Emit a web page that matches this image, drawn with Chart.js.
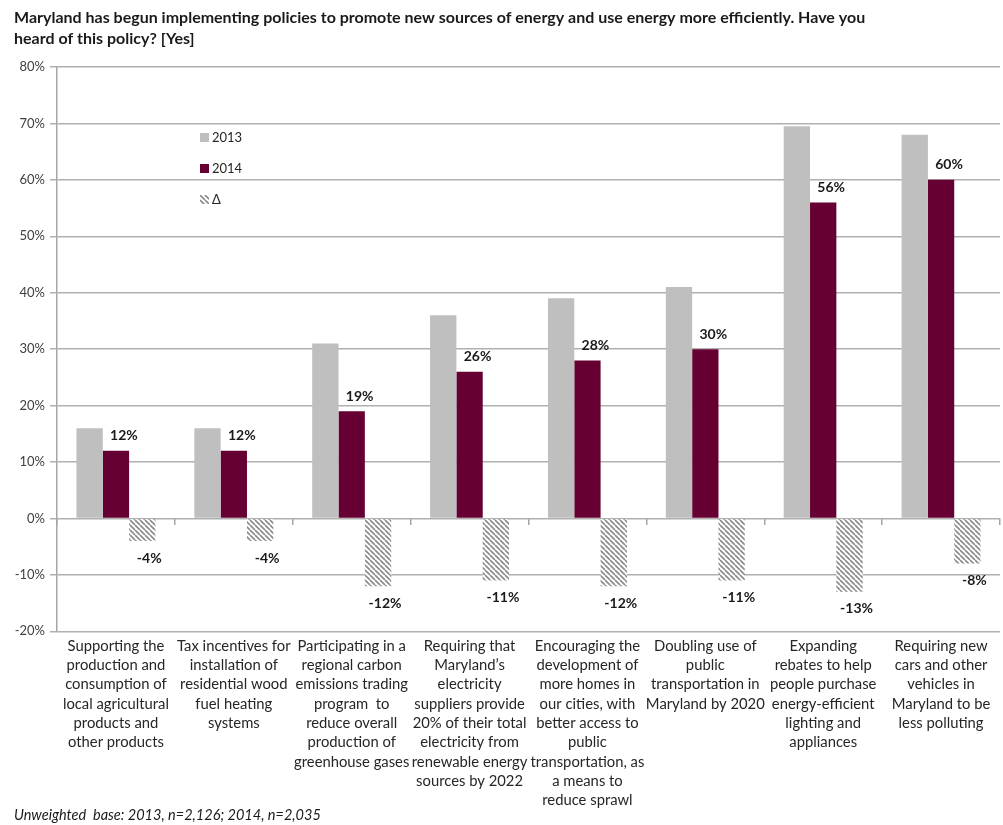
<!DOCTYPE html>
<html>
<head>
<meta charset="utf-8">
<script src="https://cdn.jsdelivr.net/npm/chart.js@4/dist/chart.umd.min.js"></script>
<style>
  html, body { margin: 0; padding: 0; background: #fff; }
  #wrap { width: 1003px; height: 825px; position: relative; }
</style>
</head>
<body>
<div id="wrap"><canvas id="chart"></canvas></div>
<script>
const policies = [
  ["Supporting the", "production and", "consumption of", "local agricultural", "products and", "other products"],
  ["Tax incentives for", "installation of", "residential wood", "fuel heating", "systems"],
  ["Participating in a", "regional carbon", "emissions trading", "program  to", "reduce overall", "production of", "greenhouse gases"],
  ["Requiring that", "Maryland\u2019s", "electricity", "suppliers provide", "20% of their total", "electricity from", "renewable energy", "sources by 2022"],
  ["Encouraging the", "development of", "more homes in", "our cities, with", "better access to", "public", "transportation, as", "a means to", "reduce sprawl"],
  ["Doubling use of", "public", "transportation in", "Maryland by 2020"],
  ["Expanding", "rebates to help", "people purchase", "energy-efficient", "lighting and", "appliances"],
  ["Requiring new", "cars and other", "vehicles in", "Maryland to be", "less polluting"]
];
const heard2013 = [16, 16, 31, 36, 39, 41, 69.5, 68];
const heard2014 = [12, 12, 19, 26, 28, 30, 56, 60];
const change = [-4, -4, -12, -11, -12, -11, -13, -8];
const seriesNames = ["2013", "2014", "\u0394"];
const yTicks = { min: -20, max: 80, step: 10 };
const titleLines = [
  "Maryland has begun implementing policies to promote new sources of energy and use energy more efficiently. Have you",
  "heard of this policy? [Yes]"
];
const footnote = "Unweighted  base: 2013, n=2,126; 2014, n=2,035";

const GREY = "#bfbfbf";
const MAROON = "#660033";

// diagonal stripe fill for the change bars
function stripes() {
  const c = document.createElement("canvas");
  c.width = 5; c.height = 5;
  const g = c.getContext("2d");
  g.fillStyle = "#ffffff";
  g.fillRect(0, 0, 5, 5);
  g.strokeStyle = "#8a8a8a";
  g.lineWidth = 1.6;
  g.beginPath();
  for (let k = -5; k <= 5; k += 5) {
    g.moveTo(k, 0);
    g.lineTo(k + 5, 5);
  }
  g.stroke();
  return g.createPattern(c, "repeat");
}
const hatch = stripes();

// value labels above the 2014 bars and below the change bars
const valueLabels = {
  id: "valueLabels",
  afterDatasetsDraw(chart) {
    const ctx = chart.ctx;
    ctx.save();
    ctx.font = "bold 14px Lato";
    ctx.fillStyle = "#1a1a1a";
    ctx.textAlign = "center";
    ctx.textBaseline = "middle";
    chart.getDatasetMeta(1).data.forEach((bar, i) => {
      ctx.fillText(heard2014[i] + "%", bar.x + 8, bar.y - 15);
    });
    chart.getDatasetMeta(2).data.forEach((bar, i) => {
      ctx.fillText(change[i] + "%", bar.x + 7, bar.y + 17);
    });
    ctx.restore();
  }
};

// legend drawn inside the plot area as a vertical list, plus the footnote
const extras = {
  id: "extras",
  afterDraw(chart) {
    const ctx = chart.ctx;
    const a = chart.chartArea;
    const x = a.left + 143;
    ctx.save();
    ctx.font = "13px Lato";
    ctx.textBaseline = "middle";
    chart.data.datasets.forEach((ds, i) => {
      const y = a.top + 71 + i * 31;
      ctx.fillStyle = ds.backgroundColor;
      ctx.fillRect(x, y - 5, 9, 9);
      ctx.fillStyle = "#262626";
      ctx.fillText(ds.label, x + 12, y);
    });
    ctx.font = "italic 14.5px Lato";
    ctx.fillStyle = "#1a1a1a";
    ctx.fillText(footnote, 14, chart.height - 10);
    ctx.restore();
  }
};

new Chart(document.getElementById("chart"), {
  type: "bar",
  data: {
    labels: policies,
    datasets: [
      { label: seriesNames[0], data: heard2013, backgroundColor: GREY },
      { label: seriesNames[1], data: heard2014, backgroundColor: MAROON },
      { label: seriesNames[2], data: change, backgroundColor: hatch }
    ]
  },
  options: {
    responsive: true,
    maintainAspectRatio: false,
    animation: false,
    events: [],
    datasets: { bar: { categoryPercentage: 0.67, barPercentage: 1 } },
    layout: { padding: { left: 14, right: 3, top: 0, bottom: 10 } },
    plugins: {
      legend: { display: false },
      tooltip: { enabled: false },
      title: {
        display: true,
        text: titleLines,
        align: "start",
        color: "#1a1a1a",
        font: { family: "Lato", size: 16, weight: "bold", lineHeight: 1.3125 },
        padding: { top: 7, bottom: 18 }
      }
    },
    scales: {
      x: {
        offset: true,
        grid: { display: false, drawTicks: false, tickLength: 0 },
        border: { display: false },
        ticks: {
          autoSkip: false,
          maxRotation: 0,
          minRotation: 0,
          padding: 5,
          color: "#262626",
          font: { family: "Lato", size: 14.8, lineHeight: 1.304 }
        }
      },
      zero: {
        type: "category",
        axis: "x",
        position: { y: 0 },
        offset: true,
        grid: { drawOnChartArea: false, offset: true, tickLength: 7, color: "#a6a6a6", lineWidth: 1.5 },
        border: { display: false },
        ticks: { display: false }
      },
      y: {
        min: yTicks.min,
        max: yTicks.max,
        afterFit(scale) { scale.width = 43; },
        grid: { color: "#b0b0b0", lineWidth: 1.5, tickLength: 7 },
        border: { color: "#a6a6a6", width: 1.5 },
        ticks: {
          stepSize: yTicks.step,
          padding: 5,
          color: "#404040",
          font: { family: "Lato", size: 13 },
          callback: v => v + "%"
        }
      }
    }
  },
  plugins: [valueLabels, extras]
});
</script>
</body>
</html>
